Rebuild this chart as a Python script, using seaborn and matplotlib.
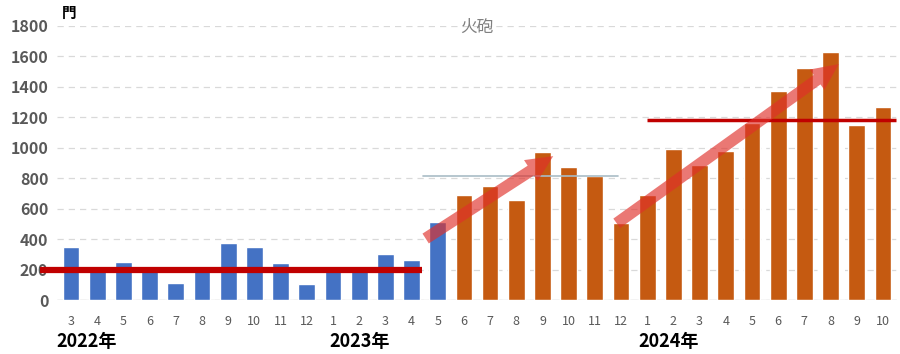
import matplotlib
matplotlib.use("Agg")
import matplotlib.pyplot as plt
import numpy as np
import pandas as pd
import seaborn as sns

# monthly counts, 2022-03 .. 2024-10
months = ["3", "4", "5", "6", "7", "8", "9", "10", "11", "12",
          "1", "2", "3", "4", "5", "6", "7", "8", "9", "10", "11", "12",
          "1", "2", "3", "4", "5", "6", "7", "8", "9", "10"]
counts = [345, 195, 250, 190, 110, 195, 375, 350, 240, 105,
          190, 195, 305, 260, 515, 690, 750, 657, 975, 876, 815, 508,
          690, 993, 887, 978, 1165, 1370, 1522, 1628, 1148, 1270]
period = ["before"] * 15 + ["after"] * 17
years = ["2022年", "2023年", "2024年"]
year_pos = [0.6, 11.0, 22.8]

# reference lines: (start idx, end idx, level)
base_line = (-1.2, 13.4, 200)
mid_line = (13.45, 20.9, 815)
high_line = (21.98, 31.5, 1183)
arrows = [((13.45, 394), (18.5, 955)), ((20.75, 493), (29.4, 1560))]

sns.set_theme(style="white")
plt.rcParams["font.family"] = ["Noto Sans CJK JP", "DejaVu Sans"]

df = pd.DataFrame({"idx": range(len(counts)), "count": counts, "period": period})

fig, ax = plt.subplots(figsize=(9, 3.54), dpi=100)
fig.subplots_adjust(left=0.063, right=0.997, bottom=0.1525, top=0.9266)

sns.barplot(data=df, x="idx", y="count", hue="period", dodge=False,
            palette={"before": "#4472C4", "after": "#C55A11"}, saturation=1,
            width=0.64, legend=False, ax=ax, zorder=2)

ax.set_xlim(-0.55, 31.55)
ax.set_ylim(0, 1800)
ax.set_yticks(range(0, 1801, 200))
ax.set_xticks(range(len(months)))
ax.set_xticklabels(months, fontsize=9, color="#595959")
ax.set_yticklabels([str(v) for v in range(0, 1801, 200)], fontsize=11.5,
                   color="#595959", fontweight="bold")
ax.tick_params(axis="x", length=0, pad=11)
ax.tick_params(axis="y", length=0, pad=6)
ax.set_xlabel("")
ax.set_ylabel("")
for s in ax.spines.values():
    s.set_visible(False)
ax.yaxis.grid(True, linestyle=(0, (5, 4)), color="#D9D9D9", linewidth=0.9, zorder=0)
ax.axhline(0, color="#D9D9D9", linewidth=1, zorder=1)
ax.set_axisbelow(True)

# trend annotations
ax.plot(base_line[:2], [base_line[2]] * 2, color="#C00000", linewidth=4.5,
        solid_capstyle="butt", zorder=4, clip_on=False)
ax.plot(mid_line[:2], [mid_line[2]] * 2, color="#A9BCC6", linewidth=1.2, zorder=4)
ax.plot(high_line[:2], [high_line[2]] * 2, color="#C00000", linewidth=2.5,
        solid_capstyle="butt", zorder=4, clip_on=False)
for (x0, y0), (x1, y1) in arrows:
    ax.annotate("", xy=(x1, y1), xytext=(x0, y0),
                arrowprops=dict(arrowstyle="simple,head_length=1.6,head_width=1.5,tail_width=0.7",
                                color="#E0302A", alpha=0.65, lw=0),
                zorder=5)

ax.set_title("火砲", fontsize=12, color="#808080", pad=-4)
fig.text(0.069, 0.962, "門", fontsize=10.5, fontweight="bold", color="black",
         ha="left", va="center")
for y, p in zip(years, year_pos):
    ax.text(p, -0.153, y, transform=ax.get_xaxis_transform(), fontsize=13,
            fontweight="bold", ha="center", va="center", color="black")

fig.savefig("out.png", dpi=100)
